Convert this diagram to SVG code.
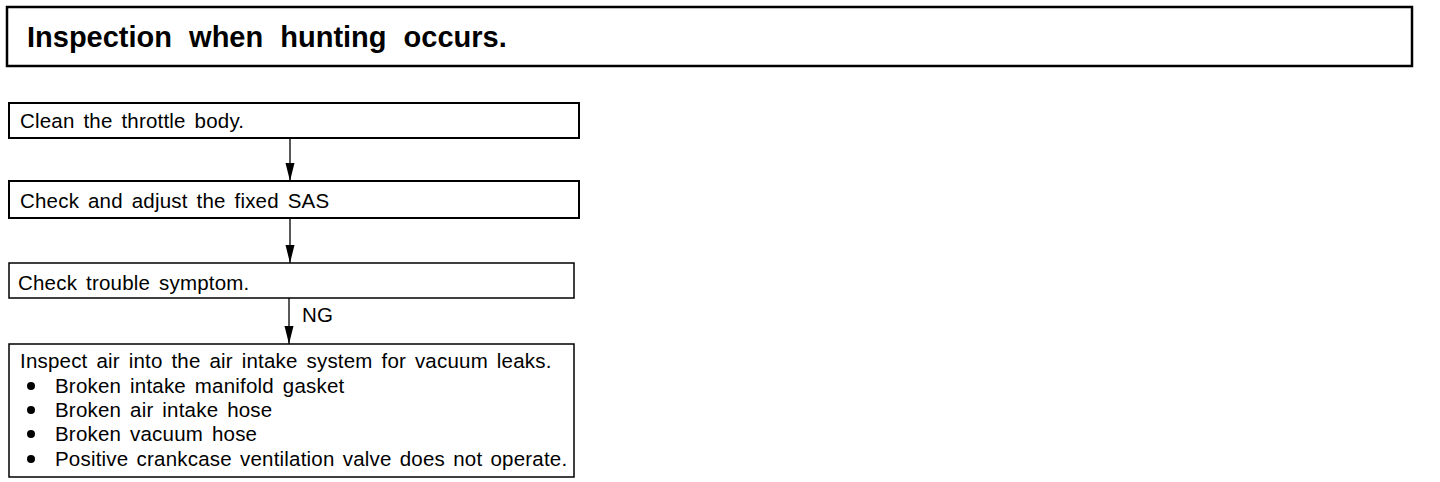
<svg xmlns="http://www.w3.org/2000/svg" width="1440" height="482" viewBox="0 0 1440 482">
<style>
.box{fill:#fff;stroke:#000;stroke-width:2}
.thin{stroke-width:1.5}
.t{font-family:"Liberation Sans",Arial,sans-serif;font-size:20.5px;fill:#000;letter-spacing:0.2px;word-spacing:3px}
.title{font-family:"Liberation Sans",Arial,sans-serif;font-size:29px;font-weight:bold;fill:#000;word-spacing:9px}
.conn{stroke:#000;stroke-width:1.3;fill:none}
</style>
<defs>
<marker id="ah" markerUnits="userSpaceOnUse" markerWidth="18" markerHeight="10" refX="18" refY="5" orient="auto" viewBox="0 0 18 10">
<path d="M0,0.5 L18,5 L0,9.5 Z" fill="#000"/>
</marker>
</defs>
<g id="title">
<rect class="box" x="7" y="7" width="1405" height="59" style="stroke-width:2.5"/>
<text class="title" x="27" y="47">Inspection when hunting occurs.</text>
</g>
<g id="n1">
<rect class="box" x="9" y="103" width="570" height="35"/>
<text class="t" x="20" y="128">Clean the throttle body.</text>
</g>
<g id="n2">
<rect class="box" x="9" y="181" width="570" height="37"/>
<text class="t" x="20" y="208">Check and adjust the fixed SAS</text>
</g>
<g id="n3">
<rect class="box thin" x="9" y="263" width="565" height="35"/>
<text class="t" x="18" y="290">Check trouble symptom.</text>
</g>
<g id="n4">
<rect class="box thin" x="9" y="344" width="565" height="133"/>
<text class="t" x="20" y="368">Inspect air into the air intake system for vacuum leaks.</text>
<circle cx="31" cy="386" r="4"/>
<text class="t" x="55" y="393">Broken intake manifold gasket</text>
<circle cx="31" cy="410" r="4"/>
<text class="t" x="55" y="417">Broken air intake hose</text>
<circle cx="31" cy="434" r="4"/>
<text class="t" x="55" y="441">Broken vacuum hose</text>
<circle cx="31" cy="459" r="4"/>
<text class="t" x="55" y="466" style="word-spacing:2.3px">Positive crankcase ventilation valve does not operate.</text>
</g>
<g id="connectors">
<line class="conn" x1="290" y1="138" x2="290" y2="181" marker-end="url(#ah)"/>
<line class="conn" x1="290" y1="218" x2="290" y2="263" marker-end="url(#ah)"/>
<line class="conn" x1="289" y1="298" x2="289" y2="344" marker-end="url(#ah)"/>
<text class="t" x="302" y="322">NG</text>
</g>
</svg>
